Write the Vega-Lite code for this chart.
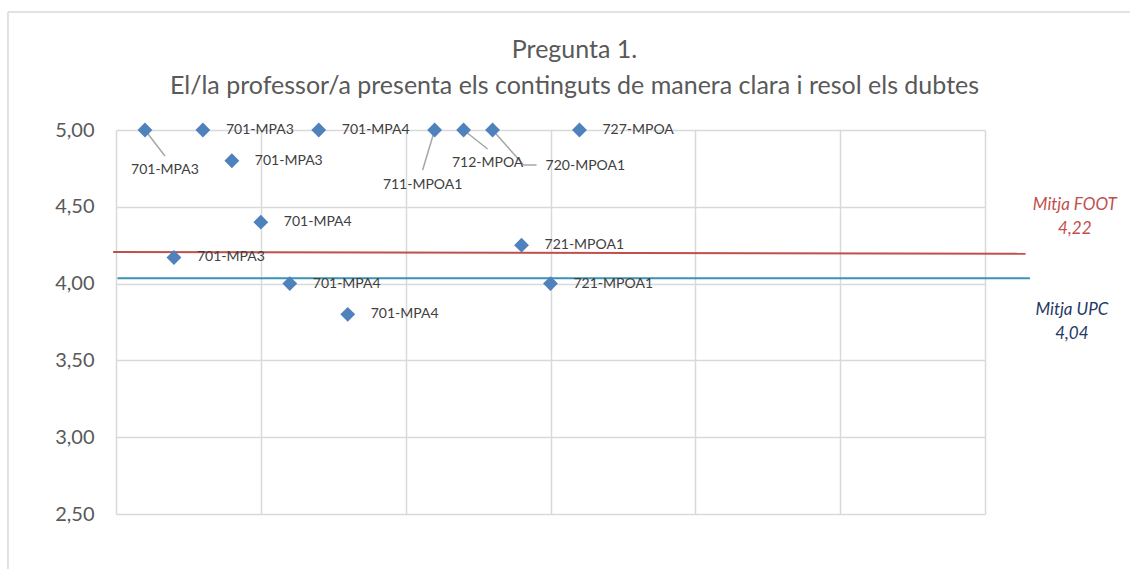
{
  "$schema": "https://vega.github.io/schema/vega-lite/v6.json",
  "width": 869,
  "height": 384,
  "autosize": {"type": "none"},
  "padding": {"left": 116, "top": 130, "right": 146, "bottom": 55},
  "background": "white",
  "title": {
    "text": ["Pregunta 1.", "El/la professor/a presenta els continguts de manera clara i resol els dubtes"],
    "font": "Lato",
    "fontSize": 25,
    "fontWeight": "normal",
    "color": "#595959",
    "lineHeight": 36,
    "anchor": "middle",
    "frame": "group",
    "offset": -88,
    "dx": 24
  },
  "config": {
    "view": {"stroke": null},
    "axis": {
      "grid": true,
      "gridColor": "#d9d9d9",
      "gridWidth": 1.5,
      "domain": false,
      "ticks": false,
      "labelFont": "Lato",
      "labelColor": "#595959",
      "title": null
    }
  },
  "data": {
    "values": [
      {"x": 1, "y": 5.00, "label": "701-MPA3"},
      {"x": 2, "y": 4.17, "label": "701-MPA3"},
      {"x": 3, "y": 5.00, "label": "701-MPA3"},
      {"x": 4, "y": 4.80, "label": "701-MPA3"},
      {"x": 5, "y": 4.40, "label": "701-MPA4"},
      {"x": 6, "y": 4.00, "label": "701-MPA4"},
      {"x": 7, "y": 5.00, "label": "701-MPA4"},
      {"x": 8, "y": 3.80, "label": "701-MPA4"},
      {"x": 11, "y": 5.00, "label": "711-MPOA1"},
      {"x": 12, "y": 5.00, "label": "712-MPOA"},
      {"x": 13, "y": 5.00, "label": "720-MPOA1"},
      {"x": 14, "y": 4.25, "label": "721-MPOA1"},
      {"x": 15, "y": 4.00, "label": "721-MPOA1"},
      {"x": 16, "y": 5.00, "label": "727-MPOA"}
    ]
  },
  "layer": [
    {
      "mark": {"type": "point", "opacity": 0},
      "encoding": {
        "x": {
          "field": "x", "type": "quantitative",
          "scale": {"domain": [0, 30], "nice": false},
          "axis": {"values": [0, 5, 10, 15, 20, 25, 30], "labels": false, "grid": true, "title": null}
        },
        "y": {
          "field": "y", "type": "quantitative",
          "scale": {"domain": [2.5, 5], "nice": false},
          "axis": {
            "values": [2.5, 3, 3.5, 4, 4.5, 5],
            "labelExpr": "replace(format(datum.value, '.2f'), '.', ',')",
            "labelFontSize": 20,
            "labelPadding": 22,
            "grid": true,
            "title": null
          }
        }
      }
    },
    {
      "data": {"values": [{}]},
      "mark": {"type": "rule", "color": "#d9d9d9", "strokeWidth": 1.5},
      "encoding": {
        "x": {"datum": -3.73, "type": "quantitative"},
        "x2": {"datum": 35.0},
        "y": {"datum": 5.768, "type": "quantitative"}
      }
    },
    {
      "data": {"values": [{}]},
      "mark": {"type": "rule", "color": "#d9d9d9", "strokeWidth": 1.5},
      "encoding": {
        "x": {"datum": -3.73, "type": "quantitative"},
        "y": {"datum": 5.768, "type": "quantitative"},
        "y2": {"datum": 2.14}
      }
    },
    {
      "data": {"values": [{}]},
      "mark": {"type": "rule", "color": "#c0504d", "strokeWidth": 2},
      "encoding": {
        "x": {"datum": -0.1, "type": "quantitative"},
        "x2": {"datum": 31.4},
        "y": {"datum": 4.205, "type": "quantitative"},
        "y2": {"datum": 4.195}
      }
    },
    {
      "data": {"values": [{}]},
      "mark": {"type": "rule", "color": "#3a93b5", "strokeWidth": 2},
      "encoding": {
        "x": {"datum": 0.05, "type": "quantitative"},
        "x2": {"datum": 31.55},
        "y": {"datum": 4.035, "type": "quantitative"},
        "y2": {"datum": 4.035}
      }
    },
    {
      "transform": [{"filter": "datum.x == 1"}],
      "mark": {"type": "rule", "color": "#a6a6a6", "strokeWidth": 1.5, "x2Offset": 20, "y2Offset": 26},
      "encoding": {
        "x": {"field": "x", "type": "quantitative"},
        "y": {"field": "y", "type": "quantitative"},
        "x2": {"field": "x"},
        "y2": {"field": "y"}
      }
    },
    {
      "transform": [{"filter": "datum.x == 11"}],
      "mark": {"type": "rule", "color": "#a6a6a6", "strokeWidth": 1.5, "x2Offset": -12, "y2Offset": 40},
      "encoding": {
        "x": {"field": "x", "type": "quantitative"},
        "y": {"field": "y", "type": "quantitative"},
        "x2": {"field": "x"},
        "y2": {"field": "y"}
      }
    },
    {
      "transform": [{"filter": "datum.x == 12"}],
      "mark": {"type": "rule", "color": "#a6a6a6", "strokeWidth": 1.5, "x2Offset": 24, "y2Offset": 19},
      "encoding": {
        "x": {"field": "x", "type": "quantitative"},
        "y": {"field": "y", "type": "quantitative"},
        "x2": {"field": "x"},
        "y2": {"field": "y"}
      }
    },
    {
      "transform": [{"filter": "datum.x == 13"}],
      "mark": {"type": "rule", "color": "#a6a6a6", "strokeWidth": 1.5, "x2Offset": 31, "y2Offset": 35},
      "encoding": {
        "x": {"field": "x", "type": "quantitative"},
        "y": {"field": "y", "type": "quantitative"},
        "x2": {"field": "x"},
        "y2": {"field": "y"}
      }
    },
    {
      "transform": [{"filter": "datum.x == 13"}],
      "mark": {"type": "rule", "color": "#a6a6a6", "strokeWidth": 1.5, "xOffset": 31, "yOffset": 35, "x2Offset": 44, "y2Offset": 35},
      "encoding": {
        "x": {"field": "x", "type": "quantitative"},
        "y": {"field": "y", "type": "quantitative"},
        "x2": {"field": "x"},
        "y2": {"field": "y"}
      }
    },
    {
      "mark": {"type": "point", "shape": "diamond", "filled": true, "size": 220, "color": "#4f81bd", "opacity": 1},
      "encoding": {
        "x": {"field": "x", "type": "quantitative"},
        "y": {"field": "y", "type": "quantitative"}
      }
    },
    {
      "transform": [{"filter": "datum.x != 1 && datum.x != 11 && datum.x != 12 && datum.x != 13"}],
      "mark": {"type": "text", "align": "left", "baseline": "middle", "dx": 23, "font": "Lato", "fontSize": 14, "color": "#404040"},
      "encoding": {
        "x": {"field": "x", "type": "quantitative"},
        "y": {"field": "y", "type": "quantitative"},
        "text": {"field": "label"}
      }
    },
    {
      "transform": [{"filter": "datum.x == 1"}],
      "mark": {"type": "text", "align": "center", "baseline": "middle", "dx": 20, "dy": 40, "font": "Lato", "fontSize": 14, "color": "#404040"},
      "encoding": {
        "x": {"field": "x", "type": "quantitative"},
        "y": {"field": "y", "type": "quantitative"},
        "text": {"field": "label"}
      }
    },
    {
      "transform": [{"filter": "datum.x == 11"}],
      "mark": {"type": "text", "align": "center", "baseline": "middle", "dx": -12, "dy": 55, "font": "Lato", "fontSize": 14, "color": "#404040"},
      "encoding": {
        "x": {"field": "x", "type": "quantitative"},
        "y": {"field": "y", "type": "quantitative"},
        "text": {"field": "label"}
      }
    },
    {
      "transform": [{"filter": "datum.x == 12"}],
      "mark": {"type": "text", "align": "center", "baseline": "middle", "dx": 24, "dy": 33, "font": "Lato", "fontSize": 14, "color": "#404040"},
      "encoding": {
        "x": {"field": "x", "type": "quantitative"},
        "y": {"field": "y", "type": "quantitative"},
        "text": {"field": "label"}
      }
    },
    {
      "transform": [{"filter": "datum.x == 13"}],
      "mark": {"type": "text", "align": "left", "baseline": "middle", "dx": 53, "dy": 36, "font": "Lato", "fontSize": 14, "color": "#404040"},
      "encoding": {
        "x": {"field": "x", "type": "quantitative"},
        "y": {"field": "y", "type": "quantitative"},
        "text": {"field": "label"}
      }
    },
    {
      "data": {"values": [{}]},
      "mark": {"type": "text", "align": "center", "baseline": "middle", "font": "Lato", "fontSize": 17, "fontStyle": "italic", "color": "#c0504d", "lineHeight": 24},
      "encoding": {
        "x": {"datum": 33.1, "type": "quantitative"},
        "y": {"datum": 4.512, "type": "quantitative"},
        "text": {"value": ["Mitja FOOT", "4,22"]}
      }
    },
    {
      "data": {"values": [{}]},
      "mark": {"type": "text", "align": "center", "baseline": "middle", "font": "Lato", "fontSize": 17, "fontStyle": "italic", "color": "#1f3864", "lineHeight": 24},
      "encoding": {
        "x": {"datum": 33.0, "type": "quantitative"},
        "y": {"datum": 3.831, "type": "quantitative"},
        "text": {"value": ["Mitja UPC", "4,04"]}
      }
    }
  ]
}
